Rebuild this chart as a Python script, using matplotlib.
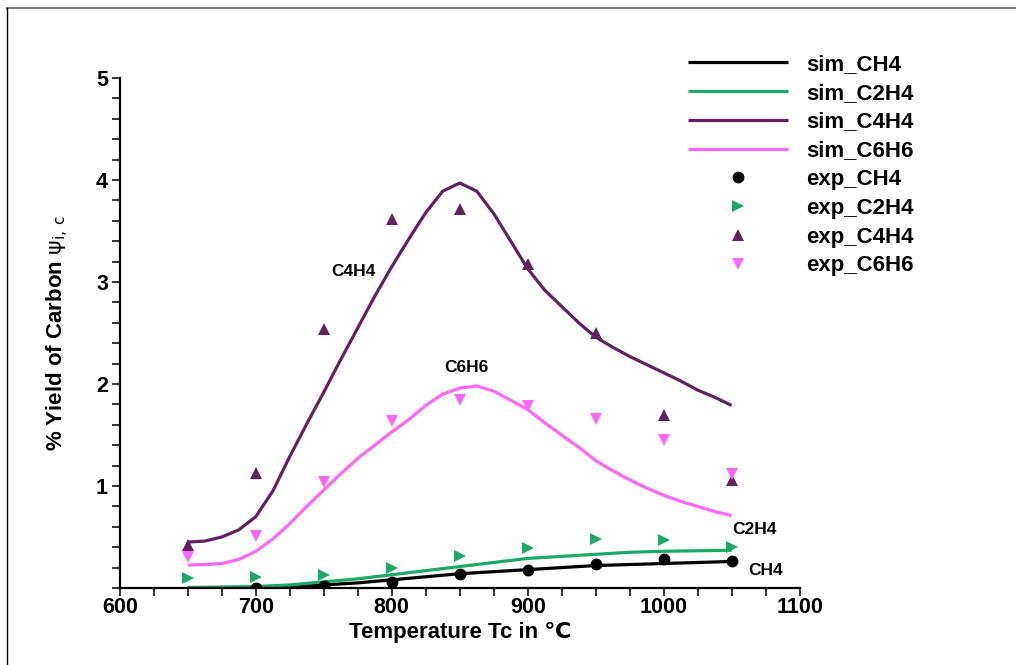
import matplotlib
matplotlib.use("Agg")
import matplotlib.pyplot as plt
from matplotlib.lines import Line2D
from matplotlib.ticker import MultipleLocator

plt.rcParams['font.family'] = ['Liberation Sans', 'DejaVu Sans']
plt.rcParams['font.weight'] = 'bold'
plt.rcParams['mathtext.fontset'] = 'custom'
plt.rcParams['mathtext.rm'] = 'DejaVu Sans:normal'
plt.rcParams['mathtext.it'] = 'DejaVu Sans:normal'

# experimental points
t_exp = [650, 700, 750, 800, 850, 900, 950, 1000, 1050]
exp_ch4 = [None, 0.0, 0.02, 0.06, 0.14, 0.18, 0.24, 0.28, 0.26]
exp_c2h4 = [0.095, 0.11, 0.125, 0.20, 0.31, 0.39, 0.48, 0.47, 0.40]
exp_c4h4 = [0.42, 1.13, 2.54, 3.62, 3.72, 3.18, 2.50, 1.70, 1.06]
exp_c6h6 = [0.30, 0.51, 1.04, 1.64, 1.84, 1.78, 1.66, 1.45, 1.12]

# simulated curves
t_sim_low = [650, 675, 700, 725, 750, 775, 800, 825, 850, 875, 900, 925, 950, 975, 1000, 1025, 1050]
sim_ch4 = [0.0, 0.0, 0.0, 0.01, 0.03, 0.05, 0.08, 0.11, 0.14, 0.16, 0.18, 0.20, 0.22, 0.23, 0.24, 0.25, 0.26]
sim_c2h4 = [0.005, 0.01, 0.015, 0.03, 0.06, 0.09, 0.13, 0.17, 0.21, 0.25, 0.29, 0.31, 0.33, 0.35, 0.36, 0.365, 0.37]

t_sim = [650, 662.5, 675, 687.5, 700, 712.5, 725, 737.5, 750, 762.5, 775, 787.5, 800, 812.5, 825, 837.5, 850,
         862.5, 875, 887.5, 900, 912.5, 925, 937.5, 950, 962.5, 975, 987.5, 1000, 1012.5, 1025, 1037.5, 1050]
sim_c4h4 = [0.45, 0.46, 0.50, 0.57, 0.70, 0.95, 1.29, 1.61, 1.92, 2.24, 2.55, 2.86, 3.15, 3.42, 3.68, 3.89, 3.97,
            3.89, 3.67, 3.40, 3.13, 2.92, 2.76, 2.60, 2.46, 2.36, 2.27, 2.19, 2.11, 2.03, 1.94, 1.87, 1.79]
sim_c6h6 = [0.225, 0.23, 0.24, 0.28, 0.36, 0.48, 0.63, 0.80, 0.96, 1.12, 1.27, 1.40, 1.53, 1.65, 1.79, 1.90, 1.96,
            1.98, 1.93, 1.84, 1.75, 1.62, 1.50, 1.38, 1.25, 1.15, 1.06, 0.98, 0.91, 0.85, 0.80, 0.75, 0.71]

c_black = "#000000"
c_green = "#19a96b"
c_purple = "#62215f"
c_pink = "#fb68f7"

fig = plt.figure(figsize=(10.16, 6.65), dpi=100)
ax = fig.add_axes([0.118, 0.1158, 0.669, 0.767])

lw = 2.3
kw = dict(lw=lw, zorder=2, solid_joinstyle='round', solid_capstyle='butt')
ax.plot(t_sim_low, sim_ch4, color=c_black, label="sim_CH4", **kw)
ax.plot(t_sim_low, sim_c2h4, color=c_green, label="sim_C2H4", **kw)
ax.plot(t_sim, sim_c4h4, color=c_purple, label="sim_C4H4", **kw)
ax.plot(t_sim, sim_c6h6, color=c_pink, label="sim_C6H6", **kw)

tc = [t for t, v in zip(t_exp, exp_ch4) if v is not None]
vc = [v for v in exp_ch4 if v is not None]
ax.plot(tc, vc, 'o', color=c_black, ms=7.5, label="exp_CH4", zorder=3)
ax.plot(t_exp, exp_c2h4, '>', color=c_green, ms=8.5, mew=0, label="exp_C2H4", zorder=3)
ax.plot(t_exp, exp_c4h4, '^', color=c_purple, ms=8.5, mew=0, label="exp_C4H4", zorder=3)
ax.plot(t_exp, exp_c6h6, 'v', color=c_pink, ms=8.5, mew=0, label="exp_C6H6", zorder=3)

xticks = [600, 700, 800, 900, 1000, 1100]
yticks = [1, 2, 3, 4, 5]
ax.set_xlim(600, 1100)
ax.set_ylim(0, 5)
ax.set_xticks(xticks)
ax.set_xticklabels([str(t) for t in xticks], fontweight='bold', fontsize=15.5)
ax.set_yticks(yticks)
ax.set_yticklabels([str(t) for t in yticks], fontweight='bold', fontsize=15.5)
ax.xaxis.set_minor_locator(MultipleLocator(25))
ax.yaxis.set_minor_locator(MultipleLocator(0.2))
ax.tick_params(which='both', direction='out', length=5.5, width=1.1)
ax.tick_params(axis='x', which='major', pad=1)
ax.tick_params(axis='y', which='major', pad=3)
for s in ['top', 'right']:
    ax.spines[s].set_visible(False)
for s in ['left', 'bottom']:
    ax.spines[s].set_linewidth(1.6)

ax.set_xlabel("Temperature Tc in ℃", fontsize=16, fontweight='bold', labelpad=3)
ax.set_ylabel(r"% Yield of Carbon $\psi_{i,\,c}$", fontsize=16, fontweight='bold', labelpad=18)

ax.text(772, 3.10, "C4H4", fontsize=12.5, fontweight='bold', ha='center', va='center')
ax.text(855, 2.16, "C6H6", fontsize=12.5, fontweight='bold', ha='center', va='center')
ax.text(1067, 0.57, "C2H4", fontsize=12.5, fontweight='bold', ha='center', va='center', clip_on=False)
ax.text(1075, 0.17, "CH4", fontsize=12.5, fontweight='bold', ha='center', va='center', clip_on=False)

ax.legend(loc='upper left', bbox_to_anchor=(688 / 1016, 1 - 54 / 665), bbox_transform=fig.transFigure,
          frameon=False, fontsize=16, handlelength=4.5, handletextpad=0.8, labelspacing=0.35,
          borderpad=0, borderaxespad=0, numpoints=1)

# frame lines around the picture
fig.add_artist(Line2D([7 / 1016, 1], [1 - 8 / 665, 1 - 8 / 665], transform=fig.transFigure, color="#808080", lw=1.5))
fig.add_artist(Line2D([7 / 1016, 7 / 1016], [0, 1 - 8 / 665], transform=fig.transFigure, color="#000000", lw=1.0))

fig.savefig("out.png", dpi=100)
